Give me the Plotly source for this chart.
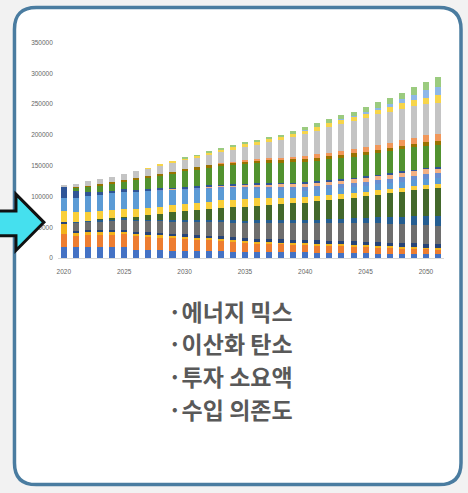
import plotly.graph_objects as go

W, H = 468, 493

# ---- data -------------------------------------------------------------
YEARS = list(range(2020, 2052))
X_TICKS = [2020, 2025, 2030, 2035, 2040, 2045, 2050]
Y_TICKS = [0, 50000, 100000, 150000, 200000, 250000, 300000, 350000]
BULLETS = ["·에너지 믹스", "·이산화 탄소", "·투자 소요액", "·수입 의존도"]

# stacked series, bottom to top, values in thousands
s01 = [17.6, 17.5, 17.8, 17.4, 17.2, 17.5, 13.5, 13.0, 12.6, 12.2, 12.0, 11.6, 11.2, 10.8, 10.4, 10.0,
       9.8, 9.6, 9.4, 9.2, 9.0, 8.7, 8.4, 8.1, 7.8, 7.5, 7.2, 6.9, 6.6, 6.3, 6.0, 5.8]
s02 = [22.0, 19.0, 19.5, 20.0, 20.5, 21.0, 21.5, 21.0, 20.5, 20.0, 19.5, 18.5, 17.5, 16.5, 15.2, 14.0,
       13.6, 13.2, 12.8, 12.4, 12.0, 11.6, 11.2, 10.8, 10.4, 10.0, 9.6, 9.2, 8.8, 8.4, 8.0, 7.5]
s03 = [16.0, 5.0, 4.6, 4.4, 4.2, 4.0, 3.8, 3.6, 3.5, 3.4, 3.3, 3.2, 3.2, 3.1, 3.0, 3.0,
       3.1, 2.9, 3.0, 3.0, 3.0, 2.9, 3.0, 3.1, 3.0, 3.0, 3.0, 2.9, 3.0, 3.0, 3.0, 3.0]
s04 = [2.4, 3.0, 3.2, 3.4, 3.5, 3.6, 3.8, 4.0, 4.1, 4.2, 4.3, 4.4, 4.6, 4.7, 4.9, 5.0,
       5.1, 5.2, 5.3, 5.4, 5.5, 5.6, 5.7, 5.8, 5.9, 6.0, 6.0, 6.0, 6.0, 6.0, 6.0, 6.0]
s05 = [0.0, 12.5, 13.0, 14.0, 15.0, 16.0, 17.0, 18.0, 18.8, 19.4, 20.0, 21.0, 22.0, 23.0, 24.0, 25.0,
       25.6, 26.2, 26.8, 27.4, 28.0, 28.6, 29.2, 29.8, 30.4, 31.0, 31.0, 30.8, 30.6, 30.3, 30.0, 30.0]
s06 = [0.0, 1.5, 1.8, 2.0, 2.2, 2.4, 2.5, 2.6, 2.8, 2.9, 3.0, 3.1, 3.2, 3.4, 3.5, 3.6,
       3.8, 4.0, 4.1, 4.3, 4.5, 5.0, 5.6, 6.2, 7.0, 8.0, 9.2, 10.5, 12.0, 13.5, 15.0, 16.0]
s07 = [0.0, 0.5, 1.0, 1.5, 2.0, 2.5, 4.5, 7.0, 9.5, 12.0, 15.0, 16.5, 18.0, 19.5, 21.2, 23.0,
       24.0, 25.0, 26.0, 27.0, 28.0, 29.4, 30.8, 32.2, 33.6, 35.0, 36.8, 38.6, 40.4, 42.2, 44.0, 45.0]
s08 = [17.6, 15.0, 14.5, 14.0, 13.5, 13.0, 12.5, 12.0, 11.5, 11.2, 11.0, 11.5, 12.0, 12.5, 12.5, 12.5,
       12.0, 11.2, 10.2, 9.3, 8.5, 8.2, 7.9, 7.6, 7.3, 7.0, 7.0, 7.0, 7.0, 7.0, 7.0, 7.0]
s09 = [22.0, 24.0, 25.0, 26.0, 27.0, 28.0, 28.0, 27.0, 26.0, 24.5, 22.5, 21.5, 20.3, 19.0, 17.8, 16.5,
       15.5, 14.4, 13.2, 12.1, 11.0, 10.7, 10.4, 10.0, 9.7, 9.5, 9.6, 9.7, 9.8, 9.9, 10.0, 10.0]
s10 = [0, 0, 0, 0, 0, 0, 0.5, 0.8, 1.0, 1.2, 1.5, 1.8, 2.1, 2.4, 2.7, 3.0,
       3.5, 4.0, 4.5, 5.0, 5.5, 5.7, 5.9, 6.1, 6.3, 6.5, 6.6, 6.7, 6.8, 6.9, 7.0, 7.0]
s11 = [0, 0, 0, 0, 0, 0, 0, 0, 0.3, 0.5, 0.8, 1.1, 1.5, 1.8, 2.2, 2.5,
       3.1, 3.7, 4.3, 4.9, 5.5, 5.7, 5.9, 6.1, 6.3, 6.5, 6.8, 7.1, 7.4, 7.7, 8.0, 8.0]
s12 = [17.0, 11.0, 7.0, 5.0, 4.0, 3.5, 3.2, 3.0, 2.8, 2.6, 2.5, 2.4, 2.3, 2.3, 2.2, 2.2,
       2.3, 2.3, 2.4, 2.4, 2.5, 2.5, 2.5, 2.5, 2.5, 2.5, 2.5, 2.5, 2.5, 2.5, 2.5, 2.5]
s13 = [0.0, 5.0, 7.5, 9.5, 11.0, 12.5, 15.5, 17.5, 20.0, 22.5, 25.5, 27.0, 28.5, 29.8, 31.0, 32.0,
       32.2, 32.4, 32.6, 32.8, 33.0, 33.4, 33.8, 34.2, 34.6, 35.0, 35.2, 35.4, 35.6, 35.8, 36.0, 36.0]
s14 = [0.0, 2.0, 2.5, 2.8, 3.0, 3.0, 3.2, 3.4, 3.5, 3.6, 3.8, 3.9, 4.0, 4.1, 4.2, 4.2,
       4.4, 4.6, 4.8, 4.9, 5.0, 5.0, 5.0, 5.0, 5.0, 5.0, 5.1, 5.2, 5.3, 5.4, 5.5, 5.5]
s15 = [0, 0, 0, 0, 0, 0, 0, 0, 0, 0, 0.5, 0.8, 1.1, 1.4, 1.7, 2.0,
       2.5, 3.0, 3.5, 4.0, 4.5, 5.1, 5.7, 6.3, 6.9, 7.5, 8.2, 8.9, 9.6, 10.3, 11.0, 12.0]
s16 = [2.0, 5.0, 7.1, 8.0, 8.5, 9.2, 11.0, 12.0, 12.8, 13.5, 14.0, 14.8, 16.0, 17.5, 19.5, 21.5,
       23.5, 26.0, 29.0, 32.0, 35.5, 38.5, 41.5, 43.5, 45.5, 47.5, 49.5, 50.0, 50.5, 51.0, 50.5, 50.0]
s17 = [0, 0, 0, 0, 0, 0, 0, 0.5, 1.0, 1.5, 2.0, 2.5, 3.0, 3.5, 4.0, 4.5,
       4.7, 4.9, 5.1, 5.3, 5.6, 5.9, 6.2, 6.5, 6.8, 7.0, 7.6, 8.3, 9.0, 10.0, 11.0, 13.0]
s18 = [0, 0, 0, 0, 0, 0, 0, 0, 0, 0, 0, 0, 0, 0, 0, 0,
       0, 0, 0, 0, 0.5, 0.8, 1.0, 1.3, 1.6, 2.0, 3.0, 4.5, 6.5, 9.0, 11.5, 14.0]
s19 = [0, 0, 0, 0, 0, 0, 0, 0, 0, 0, 0.5, 0.8, 1.0, 1.3, 1.6, 2.0,
       2.5, 3.0, 3.5, 4.2, 5.0, 5.5, 6.0, 6.5, 7.2, 8.0, 8.8, 9.6, 10.8, 12.2, 14.0, 16.0]

SERIES = [s01, s02, s03, s04, s05, s06, s07, s08, s09, s10,
          s11, s12, s13, s14, s15, s16, s17, s18, s19]
COLORS = ["#4472C4", "#ED7D31", "#F2B21B", "#264478", "#6E6E6E", "#255E91", "#43682B",
          "#F9CF3A", "#5B9BD5", "#698ED0", "#F4B183", "#2F5597", "#52922F", "#997300",
          "#F1975A", "#C4C4C4", "#F7D54A", "#8FB8E8", "#9BCB7F"]
UNIT = 1000


def px_x(p):
    return p / W


def px_y(p):
    return 1 - p / H


fig = go.Figure()
for i, (vals, col) in enumerate(zip(SERIES, COLORS)):
    fig.add_trace(go.Bar(
        x=YEARS, y=[v * UNIT for v in vals], name=f"계열{i + 1}",
        marker=dict(color=col, line=dict(width=0)), showlegend=False,
    ))

# plot area in pixels
PL, PR = 56.95, 444.0
PB, PT = 257.7, 39.0

# rounded frame around the panel
fx0, fx1, fy0, fy1, r = 13.5, 461.0, 3.5, 487.5, 22
rx, ry = r / W, r / H
X0, X1, Y0, Y1 = px_x(fx0), px_x(fx1), px_y(fy1), px_y(fy0)
frame = (f"M {X0 + rx} {Y1} L {X1 - rx} {Y1} Q {X1} {Y1} {X1} {Y1 - ry} "
         f"L {X1} {Y0 + ry} Q {X1} {Y0} {X1 - rx} {Y0} "
         f"L {X0 + rx} {Y0} Q {X0} {Y0} {X0} {Y0 + ry} "
         f"L {X0} {Y1 - ry} Q {X0} {Y1} {X0 + rx} {Y1} Z")

# pointer arrow on the left edge
arrow_pts = [(-4, 210), (15, 210), (15, 193), (43, 221.5), (15, 250), (15, 235), (-4, 235)]
arrow = "M " + " L ".join(f"{px_x(a)} {px_y(b)}" for a, b in arrow_pts) + " Z"

shapes = [
    dict(type="path", xref="paper", yref="paper", path=frame, layer="below",
         fillcolor="white", line=dict(color="#4A7CA0", width=3.5)),
    dict(type="path", xref="paper", yref="paper", path=arrow, layer="above",
         fillcolor="#45E0EE", line=dict(color="#111111", width=3)),
]

annotations = []
for k, t in enumerate(BULLETS):
    annotations.append(dict(
        x=px_x(165), y=px_y(311 + k * 33.2), xref="paper", yref="paper",
        xanchor="left", yanchor="middle", showarrow=False,
        text=f"<b>{t}</b>",
        font=dict(family="Noto Sans CJK KR", size=23, color="#595959"),
    ))

fig.update_layout(
    width=W, height=H,
    margin=dict(l=0, r=0, t=0, b=0),
    paper_bgcolor="#F2F2F2",
    plot_bgcolor="white",
    barmode="stack",
    bargap=0.5,
    shapes=shapes,
    annotations=annotations,
    xaxis=dict(
        domain=[px_x(PL), px_x(PR)], range=[2019.5, 2051.5],
        tickvals=X_TICKS, ticktext=[str(v) for v in X_TICKS],
        showgrid=False, zeroline=False, showline=True, linecolor="#D9D9D9", linewidth=1,
        ticks="", ticklabelstandoff=7,
        tickfont=dict(family="Liberation Sans", size=6.5, color="#666666"),
        fixedrange=True,
    ),
    yaxis=dict(
        domain=[px_y(PB), px_y(PT)], range=[0, 350000],
        tickvals=Y_TICKS, ticktext=[str(v) for v in Y_TICKS],
        showgrid=False, zeroline=False, showline=False,
        ticks="", ticklabelstandoff=4,
        tickfont=dict(family="Liberation Sans", size=6.5, color="#666666"),
        fixedrange=True,
    ),
)

fig.write_html("out.html")
